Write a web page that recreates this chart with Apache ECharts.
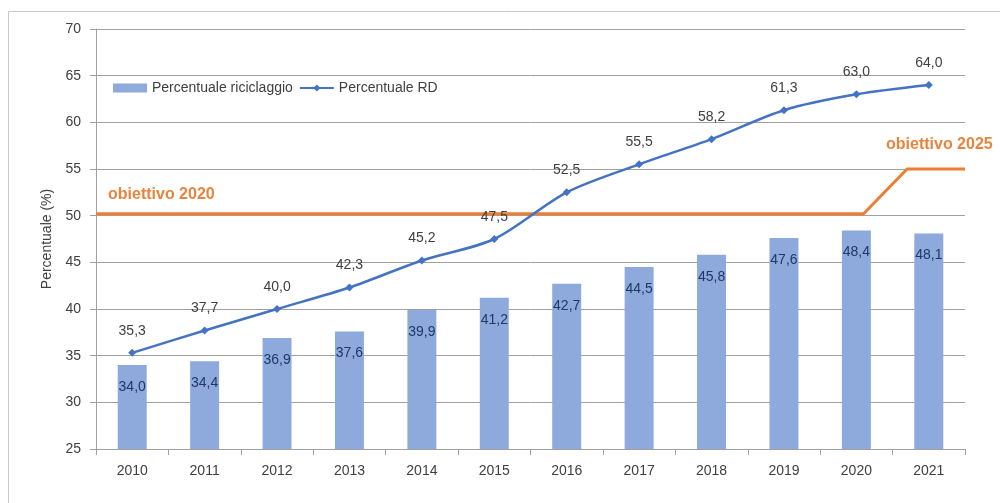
<!DOCTYPE html>
<html>
<head>
<meta charset="utf-8">
<script src="https://cdn.jsdelivr.net/npm/echarts@6/dist/echarts.min.js"></script>
<style>html,body{margin:0;padding:0;background:#fff}#c{width:1000px;height:503px}</style>
</head>
<body>
<div id="c"></div>
<script>
var years = ['2010','2011','2012','2013','2014','2015','2016','2017','2018','2019','2020','2021'];
var riciclaggio = [34.0,34.4,36.9,37.6,39.9,41.2,42.7,44.5,45.8,47.6,48.4,48.1];
var rd = [35.3,37.7,40.0,42.3,45.2,47.5,52.5,55.5,58.2,61.3,63.0,64.0];
// target line, x in category-width units from the left edge of the axis
var obiettivo = [[0,50.2],[10.6,50.2],[11.2,55],[12,55]];
var yTicks = {min:25, max:70, interval:5};

var FONT = 'Liberation Sans';
function fmt(v){ return v.toFixed(1).replace('.', ','); }

var chart = echarts.init(document.getElementById('c'));
chart.setOption({
  animation:false,
  textStyle:{fontFamily:FONT},
  graphic:[
    {type:'rect', shape:{x:8.5, y:11.5, width:1100, height:600}, style:{fill:'none', stroke:'#c8c8c8', lineWidth:1}, silent:true, z:-10},
    {type:'text', left:108, top:187, style:{text:'obiettivo 2020', fill:'#E8843C', font:'bold 16px '+FONT}},
    {type:'text', left:886, top:137, style:{text:'obiettivo 2025', fill:'#E8843C', font:'bold 16px '+FONT}}
  ],
  legend:{
    left:108, top:76, itemGap:6, itemWidth:34, itemHeight:9,
    textStyle:{fontSize:14, color:'#404040', fontFamily:FONT},
    data:[
      {name:'Percentuale riciclaggio', icon:'rect'},
      {name:'Percentuale RD'}
    ]
  },
  grid:{left:96, right:35, top:29, bottom:54, containLabel:false},
  xAxis:[
    {type:'category', data:years, boundaryGap:true,
      axisLine:{lineStyle:{color:'#a0a0a0'}},
      axisTick:{show:true, alignWithLabel:false, length:6, lineStyle:{color:'#a0a0a0'}},
      axisLabel:{fontSize:14, color:'#404040', margin:15, fontFamily:FONT},
      splitLine:{show:false}},
    {type:'value', min:0, max:12, show:false}
  ],
  yAxis:{
    type:'value', min:yTicks.min, max:yTicks.max, interval:yTicks.interval,
    name:'Percentuale (%)', nameLocation:'middle', nameGap:40,
    nameTextStyle:{fontSize:14, color:'#404040', fontFamily:FONT},
    axisLine:{show:true, lineStyle:{color:'#a0a0a0'}},
    axisTick:{show:true, length:6, lineStyle:{color:'#a0a0a0'}},
    axisLabel:{fontSize:14, color:'#404040', margin:15, fontFamily:FONT},
    splitLine:{lineStyle:{color:'#a0a0a0', width:1}}
  },
  series:[
    {name:'Percentuale riciclaggio', type:'bar', data:riciclaggio, barWidth:'40%',
      itemStyle:{color:'#8EA9DB'},
      label:{show:true, position:'insideTop', distance:15, color:'#1F3864', fontSize:14,
        formatter:function(p){return fmt(p.value);}, fontFamily:FONT}, z:2},
    {name:'Percentuale RD', type:'line', data:rd, smooth:0.3,
      symbol:'diamond', symbolSize:8,
      lineStyle:{color:'#4472C4', width:2.5}, itemStyle:{color:'#4472C4'},
      label:{show:true, position:'top', distance:11, color:'#404040', fontSize:14,
        formatter:function(p){return fmt(p.value);}, fontFamily:FONT}, z:4},
    {name:'obiettivo', type:'line', xAxisIndex:1, data:obiettivo, symbol:'none',
      lineStyle:{color:'#ED7D31', width:3}, z:3, silent:true}
  ]
});
</script>
</body>
</html>
